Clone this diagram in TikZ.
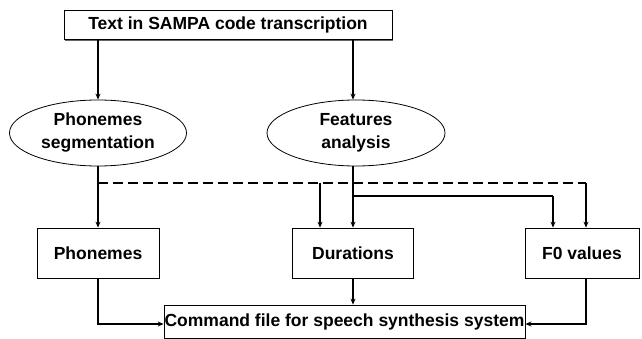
\documentclass[tikz,border=0pt]{standalone}
\usepackage{fontspec}
\setmainfont{Liberation Sans}
\usetikzlibrary{shapes.geometric,arrows.meta,shadows}
\begin{document}
\begin{tikzpicture}[x=1pt,y=-1pt,
  lbl/.style={font=\fontsize{17.5}{23}\selectfont\bfseries},
  box/.style={lbl, draw, line width=0.8pt, fill=white, inner sep=0pt, align=center},
  ell/.style={lbl, draw, ellipse, line width=0.8pt, inner sep=0pt, align=center},
  conn/.style={line width=1.8pt},
  arr/.style={conn, -{Stealth[length=6pt,width=5pt]}},
  dsh/.style={line width=1.8pt, dash pattern=on 10pt off 5pt}]
\useasboundingbox (0,0) rectangle (642,339);
\node[box, minimum width=328pt, minimum height=29pt,
      drop shadow={shadow xshift=1.2pt, shadow yshift=-1.2pt, fill=black!60, opacity=1}] (top) at (228,25) {Text in SAMPA code transcription};
\node[ell, minimum width=177pt, minimum height=66pt] (ps) at (98,133) {Phonemes\\segmentation};
\node[ell, minimum width=178pt, minimum height=66pt] (fa) at (356,133) {Features\\analysis};
\node[box, minimum width=122pt, minimum height=50pt] (ph) at (98,253) {Phonemes};
\node[box, minimum width=121pt, minimum height=50pt] (dur) at (353,253) {Durations};
\node[box, minimum width=114pt, minimum height=50pt] (f0) at (582,253) {F0 values};
\node[box, minimum width=361pt, minimum height=33pt] (cmd) at (344.5,321.5) {Command file for speech synthesis system};
\coordinate (d0) at (98,183);
\coordinate (dA) at (320,183);
\coordinate (d1) at (586,183);
\coordinate (b0) at (353,196);
\coordinate (b1) at (553,196);
\draw[arr] (top.south -| ps) -- (ps.north);
\draw[arr] (top.south -| dur) -- (fa.north -| dur);
\draw[arr] (ps.south) -- (ph.north);
\draw[arr] (fa.south -| dur) -- (dur.north);
\draw[dsh] (d0) -- (d1);
\draw[arr] (dA) -- (dA |- dur.north);
\draw[arr] (d1) -- (d1 |- f0.north);
\draw[conn] (b0) -- (b1);
\draw[arr] (b1) -- (b1 |- f0.north);
\draw[arr] (ph.south) |- ([yshift=-2.5pt]cmd.west);
\draw[arr] (dur.south) -- (cmd.north -| dur);
\draw[arr] (f0.south -| d1) |- ([yshift=-2.5pt]cmd.east);
\end{tikzpicture}
\end{document}
